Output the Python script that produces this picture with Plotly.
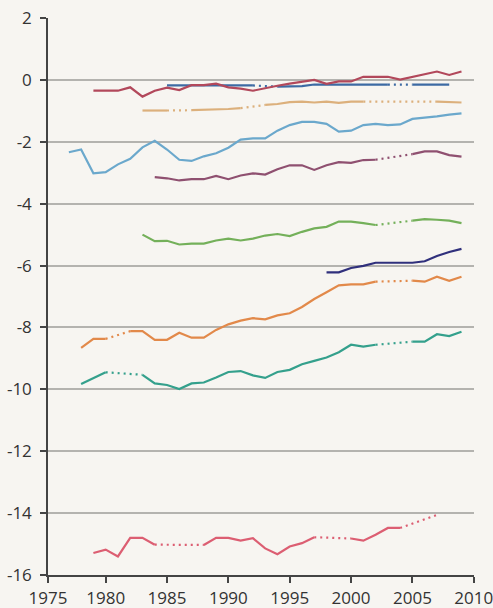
import plotly.graph_objects as go

# ---- data (values by year; None = missing year, bridged with a dotted line) ----
red_start = 1979
red = [-0.35, -0.35, -0.35, -0.24, -0.54, -0.35, -0.25, -0.33, -0.17, -0.17, -0.12,
       -0.24, -0.28, -0.35, -0.26, -0.19, -0.12, -0.05, 0.0, -0.13, -0.05, -0.05,
       0.10, 0.10, 0.10, 0.01, 0.10, 0.18, 0.27, 0.16, 0.27]

blue_start = 1985
blue = [-0.18, -0.18, -0.18, -0.18, -0.18, -0.18, -0.18, -0.18, None,
        -0.22, -0.22, -0.20, -0.15, -0.15, -0.15, -0.15, -0.15, -0.15, -0.15,
        None, -0.15, -0.15, -0.15, -0.15]

tan_start = 1983
tan = [-0.99, -0.99, -0.99, None, -0.98, -0.97, -0.95, -0.94, -0.91, None,
       -0.81, -0.78, -0.72, -0.70, -0.73, -0.70, -0.74, -0.70, -0.70,
       None, None, None, None, None, -0.70, -0.71, -0.73]

lightblue_start = 1977
lightblue = [-2.34, -2.25, -3.02, -2.98, -2.73, -2.55, -2.18, -1.97, -2.25, -2.58,
             -2.62, -2.47, -2.37, -2.19, -1.93, -1.89, -1.89, -1.64, -1.46, -1.36,
             -1.36, -1.42, -1.67, -1.64, -1.46, -1.42, -1.46, -1.44, -1.26, -1.23,
             -1.18, -1.12, -1.08]

purple_start = 1984
purple = [-3.14, -3.18, -3.25, -3.21, -3.21, -3.10, -3.21, -3.09, -3.02, -3.06,
          -2.89, -2.76, -2.76, -2.91, -2.76, -2.66, -2.68, -2.59, -2.58,
          None, None, -2.40, -2.31, -2.31, -2.43, -2.48]

green_start = 1983
green = [-5.00, -5.21, -5.20, -5.32, -5.29, -5.29, -5.19, -5.13, -5.19, -5.13,
         -5.03, -4.98, -5.05, -4.91, -4.80, -4.75, -4.58, -4.58, -4.63, -4.69,
         None, None, -4.55, -4.50, -4.52, -4.55, -4.63]

navy_start = 1998
navy = [-6.22, -6.22, -6.08, -6.01, -5.91, -5.91, -5.91, -5.91, -5.86, -5.69, -5.56, -5.46]

orange_start = 1978
orange = [-8.66, -8.37, -8.37, None, -8.12, -8.12, -8.40, -8.40, -8.17, -8.33,
          -8.33, -8.08, -7.90, -7.78, -7.70, -7.74, -7.61, -7.54, -7.34, -7.08,
          -6.86, -6.64, -6.61, -6.61, -6.52, None, None, -6.49, -6.52, -6.36,
          -6.49, -6.36]

teal_start = 1978
teal = [-9.83, -9.64, -9.45, None, None, -9.53, -9.81, -9.86, -9.99, -9.81,
        -9.78, -9.62, -9.44, -9.41, -9.55, -9.63, -9.44, -9.37, -9.19, -9.08,
        -8.97, -8.80, -8.56, -8.62, -8.56, None, None, -8.46, -8.46, -8.22,
        -8.28, -8.14]

pink_start = 1979
pink = [-15.29, -15.18, -15.40, -14.80, -14.80, -15.02, None, None, None,
        -15.03, -14.80, -14.80, -14.89, -14.81, -15.14, -15.33, -15.08, -14.97,
        -14.78, None, None, -14.82, -14.89, -14.70, -14.48, -14.48, None, None,
        -14.06]

x_tick_vals = [1975.3, 1980, 1985, 1990, 1995, 2000, 2005, 2010]
x_tick_text = ["1975", "1980", "1985", "1990", "1995", "2000", "2005", "2010"]
y_tick_vals = [2, 0, -2, -4, -6, -8, -10, -12, -14, -16]
y_tick_text = ["2", "0", "-2", "-4", "-6", "-8", "-10", "-12", "-14", "-16"]

series = [
    (lightblue_start, lightblue, "#6ba8cc"),
    (purple_start, purple, "#8f5070"),
    (tan_start, tan, "#dcb07c"),
    (blue_start, blue, "#3d6aa3"),
    (red_start, red, "#b2485b"),
    (green_start, green, "#74b05a"),
    (navy_start, navy, "#30307c"),
    (orange_start, orange, "#e2894a"),
    (teal_start, teal, "#34a08c"),
    (pink_start, pink, "#dc5e72"),
]

fig = go.Figure()
for start, vals, color in series:
    years = list(range(start, start + len(vals)))
    # solid segments (breaks at missing years)
    fig.add_trace(go.Scatter(x=years, y=vals, mode="lines", connectgaps=False,
                             line=dict(color=color, width=2.2), hoverinfo="skip"))
    # dotted bridges across missing years
    known = [(y, v) for y, v in zip(years, vals) if v is not None]
    dx, dy = [], []
    for (y0, v0), (y1, v1) in zip(known[:-1], known[1:]):
        if y1 - y0 > 1:
            dx += [y0, y1, None]
            dy += [v0, v1, None]
    if dx:
        fig.add_trace(go.Scatter(x=dx, y=dy, mode="lines",
                                 line=dict(color=color, width=2.2, dash="2px,4px"),
                                 hoverinfo="skip"))

bg = "#f7f5f1"
fig.update_layout(
    width=493, height=608,
    margin=dict(l=48, r=19, t=18, b=33),
    paper_bgcolor=bg, plot_bgcolor=bg,
    showlegend=False,
    font=dict(family="Open Sans", size=17, color="#333333"),
)
fig.update_xaxes(
    range=[1975.3, 2010.02], tickvals=x_tick_vals, ticktext=x_tick_text,
    ticks="outside", ticklen=6, tickwidth=1.5, tickcolor="#444444",
    showline=True, linecolor="#444444", linewidth=1.5,
    showgrid=False, zeroline=False, automargin=False, ticklabelstandoff=1,
    ticklabeloverflow="allow",
)
fig.update_yaxes(
    range=[-16, 2], tickvals=y_tick_vals, ticktext=y_tick_text,
    ticks="outside", ticklen=6, tickwidth=1.5, tickcolor="#444444",
    showline=True, linecolor="#444444", linewidth=1.5,
    showgrid=True, gridcolor="#b4b3af", gridwidth=2,
    zeroline=False, ticklabelstandoff=5, automargin=False,
    ticklabeloverflow="allow",
)

fig.write_html(
    "out.html",
    config={"displayModeBar": False},
    post_script="document.body.style.margin='0';document.body.style.background='%s';" % bg,
)
